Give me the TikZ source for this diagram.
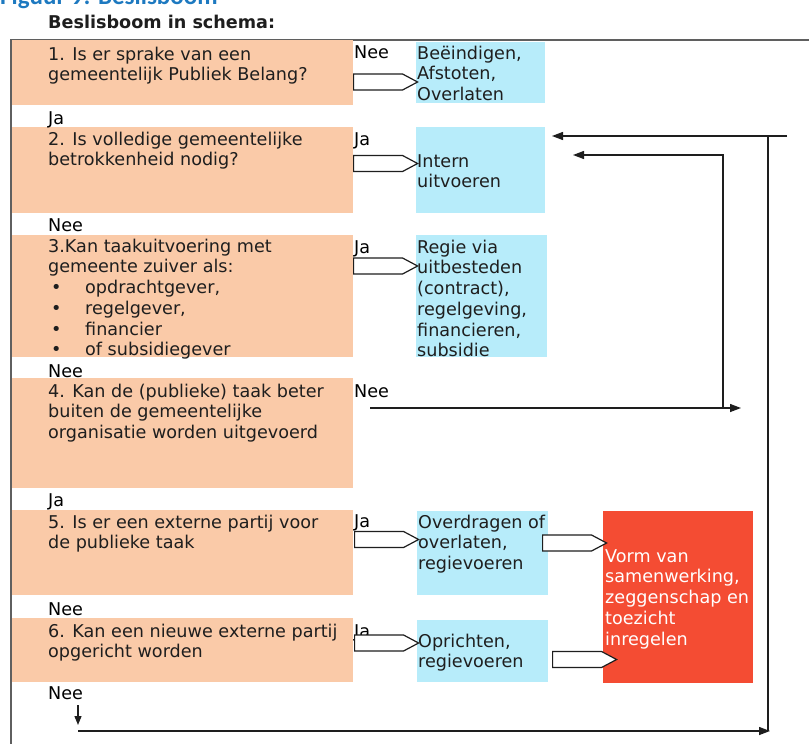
\documentclass[tikz,border=0pt]{standalone}
\usepackage{fontspec}
\setmainfont{DejaVu Sans}
\newfontfamily\titlefont{Carlito}
\usetikzlibrary{arrows.meta,shapes.symbols}

\definecolor{peach}{RGB}{250,202,168}
\definecolor{skyc}{RGB}{183,236,250}
\definecolor{flame}{RGB}{244,76,51}
\definecolor{heading}{RGB}{29,121,192}
\definecolor{ink}{RGB}{30,30,30}
\definecolor{framegray}{RGB}{95,95,95}

\newcommand{\bodyfont}{\fontsize{17.6}{20.7}\selectfont}
\newcommand{\topstrut}{\rule{0pt}{14pt}}
\newcommand{\bul}{\makebox[37pt][l]{\hspace{3pt}•}}

\tikzset{
  panel/.style={rectangle, draw=none, inner sep=0pt, outer sep=0pt, anchor=north west},
  qbox/.style={panel, fill=peach},
  abox/.style={panel, fill=skyc},
  rbox/.style={panel, fill=flame},
  txt/.style={anchor=north west, inner sep=0pt, align=left, font=\bodyfont, text=ink},
  lab/.style={anchor=base west, inner sep=0pt, font=\bodyfont, text=black},
  flow/.style={draw=ink, line width=1.3pt, -{Triangle[length=11pt,width=8pt]}},
  plain/.style={draw=ink, line width=1.3pt},
  barrow/.style={shape=signal, signal to=east, signal pointer angle=56,
    draw=ink, fill=white, line width=1.2pt, minimum width=64pt,
    minimum height=16pt, inner sep=0pt, anchor=west},
}

\begin{document}
\begin{tikzpicture}[x=1pt, y=-1pt]
\useasboundingbox (0,0) rectangle (809,744);
\clip (0,0) rectangle (809,744);
\fill[white] (0,0) rectangle (809,744);

% headings
\node[anchor=base west, inner sep=0pt, text=heading,
      font=\titlefont\bfseries\fontsize{25}{30}\selectfont] (fig) at (0,5) {Figuur 9: Beslisboom};
\node[anchor=base west, inner sep=0pt, text=ink,
      font=\bfseries\bodyfont] (head) at (48,28) {Beslisboom in schema:};

% outer frame
\coordinate (fr1) at (809,40);
\coordinate (fr2) at (11,40);
\coordinate (fr3) at (11,744);
\draw[framegray, line width=1.6pt] (fr1) -- (fr2) -- (fr3);

% question panels
\node[qbox, minimum width=341pt, minimum height=65pt]  (o1) at (12,40)  {};
\node[qbox, minimum width=341pt, minimum height=86pt]  (o2) at (12,127) {};
\node[qbox, minimum width=341pt, minimum height=122pt] (o3) at (12,235) {};
\node[qbox, minimum width=341pt, minimum height=110pt] (o4) at (12,378) {};
\node[qbox, minimum width=341pt, minimum height=85pt]  (o5) at (12,510) {};
\node[qbox, minimum width=341pt, minimum height=64pt]  (o6) at (12,618) {};

% outcome panels
\node[abox, minimum width=129pt, minimum height=61pt]  (b1) at (416,42)  {};
\node[abox, minimum width=129pt, minimum height=86pt]  (b2) at (416,127) {};
\node[abox, minimum width=131pt, minimum height=122pt] (b3) at (416,235) {};
\node[abox, minimum width=131pt, minimum height=84pt]  (b5) at (417,511) {};
\node[abox, minimum width=131pt, minimum height=62pt]  (b6) at (417,620) {};
\node[rbox, minimum width=150pt, minimum height=172pt] (rd) at (603,511) {};

% question texts
\node[txt] (q1) at (48,46)  {\topstrut 1. Is er sprake van een\\gemeentelijk Publiek Belang?};
\node[txt] (q2) at (48,131) {\topstrut 2. Is volledige gemeentelijke\\betrokkenheid nodig?};
\node[txt] (q3) at (48,238) {\topstrut 3.Kan taakuitvoering met\\gemeente zuiver als:\\
  \bul opdrachtgever,\\\bul regelgever,\\\bul financier\\\bul of subsidiegever};
\node[txt] (q4) at (48,383) {\topstrut 4. Kan de (publieke) taak beter\\buiten de gemeentelijke\\organisatie worden uitgevoerd};
\node[txt] (q5) at (48,514) {\topstrut 5. Is er een externe partij voor\\de publieke taak};
\node[txt] (q6) at (48,623) {\topstrut 6. Kan een nieuwe externe partij\\opgericht worden};

% outcome texts
\node[txt] (u1) at (417,45)  {\topstrut Beëindigen,\\Afstoten,\\Overlaten};
\node[txt] (u2) at (417,153) {\topstrut Intern\\uitvoeren};
\node[txt] (u3) at (417,239) {\topstrut Regie via\\uitbesteden\\(contract),\\regelgeving,\\financieren,\\subsidie};
\node[txt] (u5) at (418,514) {\topstrut Overdragen of\\overlaten,\\regievoeren};
\node[txt] (u6) at (418,633) {\topstrut Oprichten,\\regievoeren};
\node[txt, text=white] (u7) at (605,548) {\topstrut Vorm van\\samenwerking,\\zeggenschap en\\toezicht\\inregelen};

% answers between the questions
\node[lab] (ja1)  at (48,124) {Ja};
\node[lab] (nee2) at (48,231) {Nee};
\node[lab] (nee3) at (48,377) {Nee};
\node[lab] (ja4)  at (48,506) {Ja};
\node[lab] (nee5) at (48,615) {Nee};
\node[lab] (nee6) at (48,699) {Nee};

% answers beside the questions
\node[lab] (sn1) at (354,58)  {Nee};
\node[lab] (sj2) at (354,145) {Ja};
\node[lab] (sj3) at (354,253) {Ja};
\node[lab] (sn4) at (354,397) {Nee};
\node[lab] (sj5) at (354,527) {Ja};
\node[lab] (sj6) at (354,637) {Ja};

% block arrows towards the outcomes
\node[barrow] (a1)  at (353,82)  {};
\node[barrow] (a2)  at (353,163.5) {};
\node[barrow] (a3)  at (353,266) {};
\node[barrow] (a5)  at (354,539.5) {};
\node[barrow] (a6)  at (354,643) {};
\node[barrow] (a5b) at (542,543) {};
\node[barrow] (a6b) at (552,659.5) {};

% routing points of the feedback lines
\coordinate (n4s) at (370,408);
\coordinate (n4e) at (741,408);
\coordinate (v1b) at (723,408);
\coordinate (v1t) at (723,155);
\coordinate (v1e) at (573,155);
\coordinate (v2r) at (787,136);
\coordinate (v2c) at (768,136);
\coordinate (v2e) at (552,136);
\coordinate (v2b) at (768,731);
\coordinate (d6t) at (78,705);
\coordinate (d6b) at (78,725);
\coordinate (bl)  at (78,731);
\coordinate (br)  at (770,731);

\draw[flow] (n4s) -- (n4e);
\draw[flow] (v1b) -- (v1t) -- (v1e);
\draw[flow] (v2r) -- (v2e);
\draw[plain] (v2c) -- (v2b);
\draw[draw=ink, line width=1.3pt, -{Triangle[length=9pt,width=7pt]}] (d6t) -- (d6b);
\draw[flow] (bl) -- (br);
\end{tikzpicture}
\end{document}
